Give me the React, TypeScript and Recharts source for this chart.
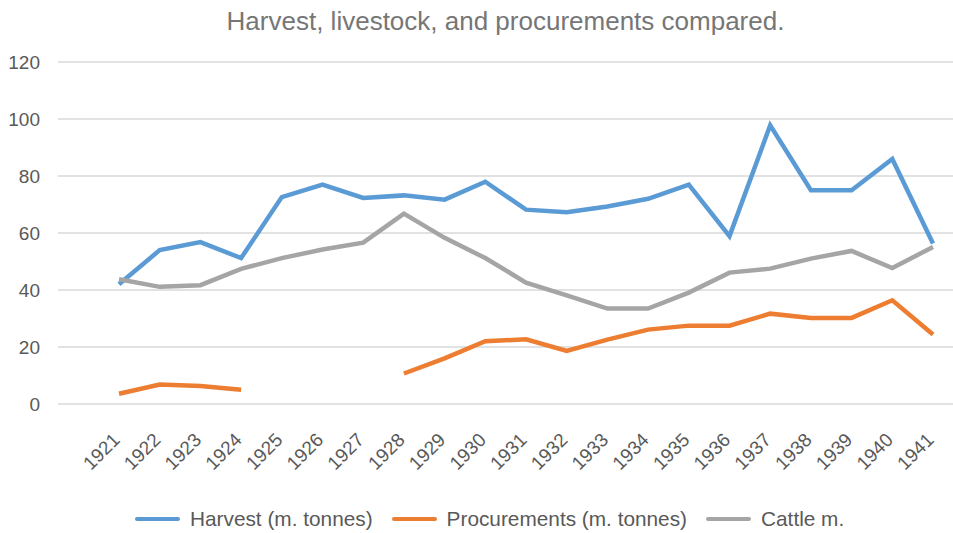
import { LineChart, Line, XAxis, YAxis, CartesianGrid, Legend } from "recharts";

const years = [
  "1921", "1922", "1923", "1924", "1925", "1926", "1927", "1928", "1929", "1930", "1931",
  "1932", "1933", "1934", "1935", "1936", "1937", "1938", "1939", "1940", "1941",
];
const harvest = [42, 54, 56.8, 51.2, 72.6, 77, 72.3, 73.2, 71.7, 78, 68.2, 67.3, 69.3, 72, 77, 58.9, 97.8, 75, 75, 86, 56.3];
const procurements = [3.6, 6.8, 6.3, 5, null, null, null, 10.7, 16, 22, 22.7, 18.6, 22.6, 26.1, 27.5, 27.5, 31.7, 30.2, 30.2, 36.4, 24.4];
const cattle = [43.8, 41.1, 41.7, 47.4, 51.2, 54.2, 56.6, 66.8, 58.3, 51.2, 42.6, 38.1, 33.5, 33.5, 39.1, 46.1, 47.5, 51, 53.7, 47.7, 55.1];
const yTicks = [0, 20, 40, 60, 80, 100, 120];

const series = [
  { key: "harvest", name: "Harvest (m. tonnes)", color: "#5b9bd5" },
  { key: "procurements", name: "Procurements (m. tonnes)", color: "#ed7d31" },
  { key: "cattle", name: "Cattle m.", color: "#a5a5a5" },
];

const data = years.map((year, i) => ({
  year,
  harvest: harvest[i],
  procurements: procurements[i],
  cattle: cattle[i],
}));

const font = "'Liberation Sans', Arial, Helvetica, sans-serif";

const YearTick = (props: any) => {
  const { x, y, payload } = props;
  const ax = x + 2;
  const ay = y + 29;
  return (
    <text
      x={ax}
      y={ay}
      textAnchor="end"
      fill="#595959"
      fontSize={19}
      fontFamily={font}
      transform={`rotate(-45, ${ax}, ${ay})`}
    >
      {payload.value}
    </text>
  );
};

const LegendBox = () => (
  <div
    style={{
      height: 50,
      boxSizing: "border-box",
      paddingTop: 26,
      paddingLeft: 135,
      display: "flex",
      fontFamily: font,
      fontSize: 20.8,
      color: "#595959",
    }}
  >
    {series.map((s) => (
      <div key={s.key} style={{ display: "flex", alignItems: "center", height: 20, marginRight: 19 }}>
        <div style={{ width: 45, height: 4.5, background: s.color, borderRadius: 2, marginRight: 10 }} />
        <span>{s.name}</span>
      </div>
    ))}
  </div>
);

export default function App() {
  return (
    <div style={{ position: "absolute", left: 0, top: 0, width: 953, height: 533, background: "#fff" }}>
      <div
        style={{
          position: "absolute",
          left: 58,
          top: 6,
          width: 895,
          textAlign: "center",
          fontFamily: font,
          fontSize: 26,
          color: "#767676",
          zIndex: 2,
        }}
      >
        Harvest, livestock, and procurements compared.
      </div>
      <LineChart width={953} height={533} data={data} margin={{ top: 62, right: 0, bottom: 0, left: 0 }}>
        <CartesianGrid vertical={false} stroke="#d9d9d9" strokeWidth={1.5} />
        <XAxis
          dataKey="year"
          interval={0}
          height={79}
          axisLine={false}
          tickLine={false}
          padding={{ left: 61, right: 20 }}
          tick={<YearTick />}
        />
        <YAxis
          width={58}
          domain={[0, 120]}
          ticks={yTicks}
          axisLine={false}
          tickLine={false}
          tickSize={0}
          tickMargin={18}
          tick={{ fill: "#595959", fontSize: 19, fontFamily: font }}
        />
        <Legend verticalAlign="bottom" content={<LegendBox />} />
        {series.map((s) => (
          <Line
            key={s.key}
            type="linear"
            dataKey={s.key}
            name={s.name}
            stroke={s.color}
            strokeWidth={4.5}
            dot={false}
            activeDot={false}
            isAnimationActive={false}
          />
        ))}
      </LineChart>
    </div>
  );
}
